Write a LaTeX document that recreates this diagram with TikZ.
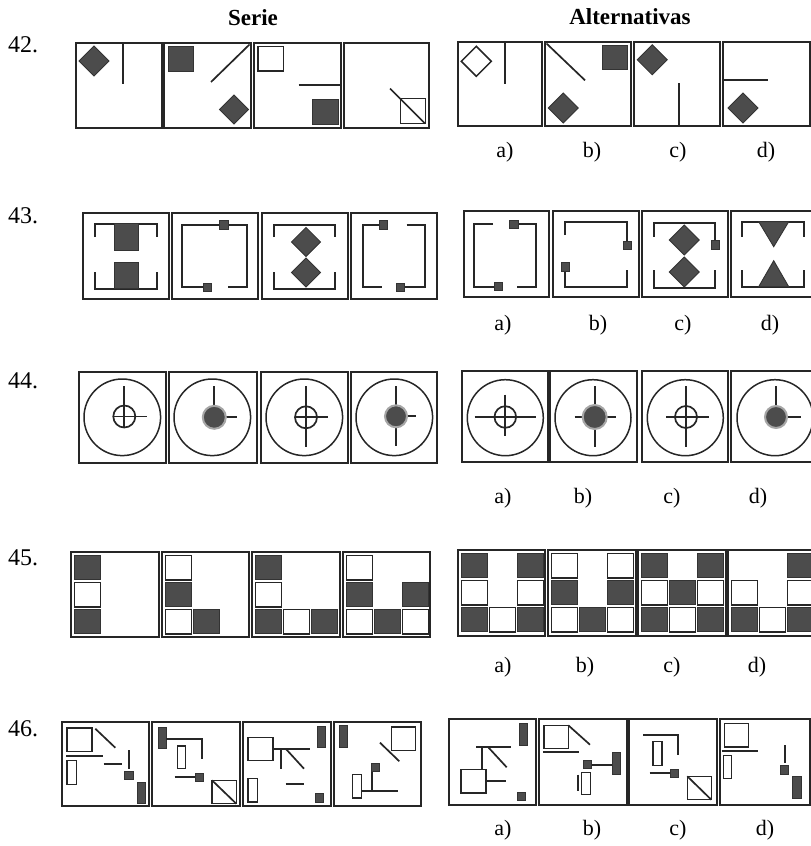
\documentclass[tikz,border=0pt]{standalone}
\usepackage{fontspec}
\setmainfont{Liberation Serif}
\definecolor{figgray}{gray}{0.3}
\definecolor{inkgray}{gray}{0.15}
\newcommand{\cellgrid}[1]{\foreach \c/\r/\t in {#1} \draw[\t] ({3.5+28*\c},{3.3+27*\r}) rectangle ++(26,24.5);}

\begin{document}
\begin{tikzpicture}[x=1pt,y=-1pt,
  panel/.style={draw=inkgray,line width=1.4pt},
  ln/.style={draw=inkgray,line width=1.7pt},
  dark/.style={fill=figgray,draw=black!80,line width=0.9pt},
  hollow/.style={draw=inkgray,line width=1.5pt,fill=white},
  disc/.style={fill=figgray,draw=black!35,line width=2pt},
  dcell/.style={fill=figgray,draw=black!80,line width=1pt},
  wcell/.style={fill=white,draw=inkgray,line width=1.5pt},
  qnum/.style={anchor=west,inner sep=0pt,font=\fontsize{24}{28}\selectfont},
  opt/.style={inner sep=0pt,font=\fontsize{22}{26}\selectfont}]
\useasboundingbox (0,0) rectangle (811,846);
\node[font=\bfseries\fontsize{23}{26}\selectfont] (serie) at (253,18) {Serie};
\node[font=\bfseries\fontsize{23}{26}\selectfont] (alternativas) at (630,17) {Alternativas};
\node[qnum] (q42) at (8,45) {42.};
\node[qnum] (q43) at (8,216) {43.};
\node[qnum] (q44) at (8,381) {44.};
\node[qnum] (q45) at (8,558) {45.};
\node[qnum] (q46) at (8,729) {46.};
\foreach \x/\l in {505/a,592/b,678/c,766/d} \node[opt] (o42\l) at (\x,152) {\l)};
\foreach \x/\l in {503/a,598/b,683/c,770/d} \node[opt] (o43\l) at (\x,325) {\l)};
\foreach \x/\l in {503/a,583/b,672/c,758/d} \node[opt] (o44\l) at (\x,498) {\l)};
\foreach \x/\l in {503/a,585/b,672/c,757/d} \node[opt] (o45\l) at (\x,667) {\l)};
\foreach \x/\l in {503/a,592/b,678/c,765/d} \node[opt] (o46\l) at (\x,830) {\l)};

% 42
\begin{scope}[shift={(76,43)}]
\draw[panel] (0,0) rectangle (86,85);
\draw[dark] (3,18) -- (18,3) -- (33,18) -- (18,33) -- cycle;
\draw[ln] (47,1) -- (47,41);
\end{scope}
\begin{scope}[shift={(164,43)}]
\draw[panel] (0,0) rectangle (87,85);
\draw[dark] (4,3) rectangle (29,28);
\draw[ln] (47,39) -- (85.5,1.5);
\draw[dark] (55.5,66.5) -- (70,52) -- (84.5,66.5) -- (70,81) -- cycle;
\end{scope}
\begin{scope}[shift={(254,43)}]
\draw[panel] (0,0) rectangle (87,85);
\draw[hollow] (4,3.5) rectangle (29.5,28);
\draw[ln] (44.5,42.3) -- (86,42.3);
\draw[dark] (58,56.5) rectangle (84,81.5);
\end{scope}
\begin{scope}[shift={(344,43)}]
\draw[panel] (0,0) rectangle (85,85);
\draw[hollow] (56.5,55.5) rectangle (81.5,80.5);
\draw[ln] (46,45.5) -- (81,80.5);
\end{scope}
\begin{scope}[shift={(458,42)}]
\draw[panel] (0,0) rectangle (84,84);
\draw[hollow] (3.3,19.3) -- (18.3,4.3) -- (33.3,19.3) -- (18.3,34.3) -- cycle;
\draw[ln] (46.7,1) -- (46.7,41.7);
\end{scope}
\begin{scope}[shift={(545,42)}]
\draw[panel] (0,0) rectangle (86,84);
\draw[ln] (1.5,1.5) -- (40,38.3);
\draw[dark] (57.7,3.3) rectangle (82.7,27.7);
\draw[dark] (3.3,66) -- (18.3,51) -- (33.3,66) -- (18.3,81) -- cycle;
\end{scope}
\begin{scope}[shift={(634,42)}]
\draw[panel] (0,0) rectangle (86,84);
\draw[dark] (3.3,17.7) -- (18.3,2.7) -- (33.3,17.7) -- (18.3,32.7) -- cycle;
\draw[ln] (44.7,41) -- (44.7,83.5);
\end{scope}
\begin{scope}[shift={(723,42)}]
\draw[panel] (0,0) rectangle (87,84);
\draw[ln] (0.7,37.7) -- (45,37.7);
\draw[dark] (5,66) -- (20,51) -- (35,66) -- (20,81) -- cycle;
\end{scope}

% 43
\begin{scope}[shift={(83,213)}]
\draw[panel] (0,0) rectangle (86,86);
\draw[ln] (12.3,24) -- (12.3,10.7) -- (74,10.7) -- (74,24);
\draw[ln] (12.3,59) -- (12.3,75.7) -- (74,75.7) -- (74,59);
\draw[dark] (31.7,10.7) rectangle (55.7,37.3);
\draw[dark] (31.7,49) rectangle (55.7,75.7);
\end{scope}
\begin{scope}[shift={(172,213)}]
\draw[panel] (0,0) rectangle (86,86);
\draw[ln] (31,74) -- (10.3,74) -- (10.3,11.7) -- (75,11.7) -- (75,74) -- (56,74);
\draw[dark] (47.7,7.7) rectangle ++(8.3,8.3);
\draw[dark] (31,70) rectangle ++(8.3,8.3);
\end{scope}
\begin{scope}[shift={(262,213)}]
\draw[panel] (0,0) rectangle (86,86);
\draw[ln] (12.3,24) -- (12.3,11.7) -- (73,11.7) -- (73,24);
\draw[ln] (12.3,59) -- (12.3,75.7) -- (73,75.7) -- (73,59);
\draw[dark] (29.5,29) -- (44,14.5) -- (58.5,29) -- (44,43.5) -- cycle;
\draw[dark] (29.5,59.5) -- (44,45) -- (58.5,59.5) -- (44,74) -- cycle;
\end{scope}
\begin{scope}[shift={(351,213)}]
\draw[panel] (0,0) rectangle (86,86);
\draw[ln] (28,11.7) -- (11.7,11.7) -- (11.7,74) -- (30.7,74);
\draw[ln] (55.7,11.7) -- (74,11.7) -- (74,74) -- (53.3,74);
\draw[dark] (28,7.7) rectangle ++(8.3,8.3);
\draw[dark] (45.3,70) rectangle ++(8.3,8.3);
\end{scope}
\begin{scope}[shift={(464,211)}]
\draw[panel] (0,0) rectangle (85,86);
\draw[ln] (29,13.3) -- (10,13.3) -- (10,75.7) -- (30,75.7);
\draw[ln] (54,13.3) -- (72.3,13.3) -- (72.3,75.7) -- (53.3,75.7);
\draw[dark] (45.7,9) rectangle ++(8.3,8.3);
\draw[dark] (30,71.5) rectangle ++(8.3,8.3);
\end{scope}
\begin{scope}[shift={(553,211)}]
\draw[panel] (0,0) rectangle (86,86);
\draw[ln] (12.3,24) -- (12.3,10.7) -- (74,10.7) -- (74,30);
\draw[ln] (12.3,60) -- (12.3,75.7) -- (74,75.7) -- (74,59);
\draw[dark] (8.2,51.7) rectangle ++(8.3,8.3);
\draw[dark] (70,30) rectangle ++(8.3,8.3);
\end{scope}
\begin{scope}[shift={(642,211)}]
\draw[panel] (0,0) rectangle (86,86);
\draw[ln] (11.7,25.7) -- (11.7,12.3) -- (72.7,12.3) -- (72.7,29.7);
\draw[ln] (11.7,59) -- (11.7,77.3) -- (72.7,77.3) -- (72.7,59);
\draw[dark] (69,29.7) rectangle ++(8.3,8.3);
\draw[dark] (27.3,29) -- (42.3,14) -- (57.3,29) -- (42.3,44) -- cycle;
\draw[dark] (27.3,61) -- (42.3,46) -- (57.3,61) -- (42.3,76) -- cycle;
\end{scope}
\begin{scope}[shift={(731,211)}]
\draw[panel] (0,0) rectangle (86,86);
\draw[ln] (11,25.7) -- (11,10.7) -- (72.7,10.7) -- (72.7,25.7);
\draw[ln] (11,59) -- (11,75.7) -- (72.7,75.7) -- (72.7,59);
\draw[dark] (27.7,10.7) -- (57.7,10.7) -- (42.7,35.7) -- cycle;
\draw[dark] (27.7,75.7) -- (57.7,75.7) -- (42.7,49.7) -- cycle;
\end{scope}

% 44
\begin{scope}[shift={(79,372)}]
\draw[panel] (0,0) rectangle (87,91);
\draw[ln,line width=1.5pt] (43.3,45.3) circle (38.3);
\draw[ln] (45.3,44.5) circle (11);
\draw[ln] (45.3,14.3) -- (45.3,55.5);
\draw[ln] (34.3,44.5) -- (67.7,44.5);
\end{scope}
\begin{scope}[shift={(169,372)}]
\draw[panel] (0,0) rectangle (88,91);
\draw[ln,line width=1.5pt] (43.3,45.3) circle (38.3);
\draw[ln] (45.3,14.3) -- (45.3,34);
\draw[ln] (56.8,45.3) -- (68.3,45.3);
\draw[disc] (45.3,45.3) circle (11.5);
\end{scope}
\begin{scope}[shift={(261,372)}]
\draw[panel] (0,0) rectangle (87,91);
\draw[ln,line width=1.5pt] (43.3,45.3) circle (38.3);
\draw[ln] (45,45.3) circle (11);
\draw[ln] (45,14.3) -- (45,75.3);
\draw[ln] (34,45.3) -- (67.3,45.3);
\end{scope}
\begin{scope}[shift={(351,372)}]
\draw[panel] (0,0) rectangle (86,91);
\draw[ln,line width=1.5pt] (43.3,45.3) circle (38.3);
\draw[ln] (45,14.3) -- (45,74.3);
\draw[ln] (45,44.3) -- (65,44.3);
\draw[disc] (45,44.3) circle (11);
\end{scope}
\begin{scope}[shift={(462,371)}]
\draw[panel] (0,0) rectangle (86,91);
\draw[ln,line width=1.5pt] (43.3,46.7) circle (38);
\draw[ln] (43.3,46) circle (10.8);
\draw[ln] (43.3,23.7) -- (43.3,65);
\draw[ln] (12.7,46) -- (74.3,46);
\end{scope}
\begin{scope}[shift={(550,371)}]
\draw[panel] (0,0) rectangle (87,91);
\draw[ln,line width=1.5pt] (43,46.7) circle (38);
\draw[ln] (44.7,15) -- (44.7,76);
\draw[ln] (24.7,46) -- (66.3,46);
\draw[disc] (44.7,46) circle (12);
\end{scope}
\begin{scope}[shift={(642,371)}]
\draw[panel] (0,0) rectangle (86,91);
\draw[ln,line width=1.5pt] (43.3,46.7) circle (38);
\draw[ln] (44,46) circle (11);
\draw[ln] (44,15) -- (44,76);
\draw[ln] (24,46) -- (66.7,46);
\end{scope}
\begin{scope}[shift={(731,371)}]
\draw[panel] (0,0) rectangle (86,91);
\draw[ln,line width=1.5pt] (44,46.7) circle (38);
\draw[ln] (45,15) -- (45,40);
\draw[ln] (45,46) -- (70,46);
\draw[disc] (45,46) circle (11);
\end{scope}

% 45
\begin{scope}[shift={(71,552)}]
\draw[panel] (0,0) rectangle (88,85);
\cellgrid{0/0/dcell,0/1/wcell,0/2/dcell}
\end{scope}
\begin{scope}[shift={(162,552)}]
\draw[panel] (0,0) rectangle (87,85);
\cellgrid{0/0/wcell,0/1/dcell,0/2/wcell,1/2/dcell}
\end{scope}
\begin{scope}[shift={(252,552)}]
\draw[panel] (0,0) rectangle (88,85);
\cellgrid{0/0/dcell,0/1/wcell,0/2/dcell,1/2/wcell,2/2/dcell}
\end{scope}
\begin{scope}[shift={(343,552)}]
\draw[panel] (0,0) rectangle (87,85);
\cellgrid{0/0/wcell,0/1/dcell,0/2/wcell,1/2/dcell,2/2/wcell,2/1/dcell}
\end{scope}
\begin{scope}[shift={(458,550)}]
\draw[panel] (0,0) rectangle (87,86);
\cellgrid{0/0/dcell,0/1/wcell,0/2/dcell,2/0/dcell,2/1/wcell,2/2/dcell,1/2/wcell}
\end{scope}
\begin{scope}[shift={(548,550)}]
\draw[panel] (0,0) rectangle (88,86);
\cellgrid{0/0/wcell,0/1/dcell,0/2/wcell,2/0/wcell,2/1/dcell,2/2/wcell,1/2/dcell}
\end{scope}
\begin{scope}[shift={(638,550)}]
\draw[panel] (0,0) rectangle (88,86);
\cellgrid{0/0/dcell,0/1/wcell,0/2/dcell,1/1/dcell,1/2/wcell,2/0/dcell,2/1/wcell,2/2/dcell}
\end{scope}
\begin{scope}[shift={(728,550)}]
\draw[panel] (0,0) rectangle (88,86);
\cellgrid{0/1/wcell,0/2/dcell,1/2/wcell,2/0/dcell,2/1/wcell,2/2/dcell}
\end{scope}

% 46
\begin{scope}[shift={(62,722)}]
\draw[panel] (0,0) rectangle (87,84);
\draw[hollow] (5,6) rectangle (30,29.3);
\draw[ln] (33.3,6.7) -- (53.3,25.7);
\draw[ln] (4.3,34) -- (41,34);
\draw[hollow] (5,38.3) rectangle (14.3,62.3);
\draw[ln] (41.7,41.7) -- (60,41.7);
\draw[ln] (66.7,28.3) -- (66.7,46.7);
\draw[dark] (62.3,49) rectangle (71,57.3);
\draw[dark] (75.7,60.7) rectangle (83.3,81.7);
\end{scope}
\begin{scope}[shift={(152,722)}]
\draw[panel] (0,0) rectangle (88,84);
\draw[dark] (6.3,5.7) rectangle (14.3,26);
\draw[ln] (14.3,16.7) -- (50,16.7) -- (50,36.7);
\draw[hollow] (25.3,24) rectangle (33.7,46.7);
\draw[ln] (22.7,55) -- (44,55);
\draw[dark] (43.7,51) rectangle (51.7,59);
\draw[hollow] (60,58.3) rectangle (84.3,81.7);
\draw[ln] (60,58.3) -- (84.3,81.7);
\end{scope}
\begin{scope}[shift={(243,722)}]
\draw[panel] (0,0) rectangle (88,84);
\draw[dark] (74.3,4.3) rectangle (82.7,25.7);
\draw[hollow] (5,15.7) rectangle (30,38.3);
\draw[ln] (30,26.7) -- (66.7,26.7);
\draw[ln] (38.3,26.7) -- (38.3,46.7);
\draw[ln] (42.7,26.7) -- (61,46.7);
\draw[hollow] (5,56.7) rectangle (14.3,80);
\draw[ln] (42.7,61.7) -- (61,61.7);
\draw[dark] (72.7,71.7) rectangle (80.7,80);
\end{scope}
\begin{scope}[shift={(334,722)}]
\draw[panel] (0,0) rectangle (87,84);
\draw[dark] (5,3.3) rectangle (13.3,25);
\draw[hollow] (57.7,5) rectangle (81.7,28.3);
\draw[ln] (46,20.7) -- (65.3,39.3);
\draw[ln] (38,49) -- (38,69.3);
\draw[dark] (37,41.7) rectangle (45,49);
\draw[ln] (27.7,69.3) -- (64.3,69.3);
\draw[hollow] (18.7,52.7) rectangle (27.7,76);
\end{scope}
\begin{scope}[shift={(449,719)}]
\draw[panel] (0,0) rectangle (87,86);
\draw[dark] (70,4.7) rectangle (78,26.3);
\draw[ln] (27,28.3) -- (62,28.3);
\draw[ln] (32.7,28.3) -- (32.7,50.7);
\draw[ln] (39.3,28.3) -- (57.7,48.3);
\draw[hollow] (12,50.7) rectangle (37,74);
\draw[ln] (37,62.3) -- (56.7,62.3);
\draw[dark] (68.3,73) rectangle (76.7,81.7);
\end{scope}
\begin{scope}[shift={(539,719)}]
\draw[panel] (0,0) rectangle (88,86);
\draw[hollow] (5,6.3) rectangle (29.3,29.7);
\draw[ln] (29.3,6.3) -- (51,25.7);
\draw[ln] (4.3,33.3) -- (40.3,33.3);
\draw[ln] (52.7,45.7) -- (73.3,45.7);
\draw[dark] (44.3,41.7) rectangle (52.7,49.7);
\draw[dark] (73.3,33.3) rectangle (81.7,55);
\draw[hollow] (42.7,53.3) rectangle (51.7,75.7);
\draw[ln] (38.7,55.7) -- (38.7,71.7);
\end{scope}
\begin{scope}[shift={(629,719)}]
\draw[panel] (0,0) rectangle (88,86);
\draw[ln] (14,16.3) -- (49,16.3) -- (49,35.7);
\draw[hollow] (24,22.3) rectangle (33,46.3);
\draw[ln] (20.7,54) -- (41.3,54);
\draw[dark] (41.3,50) rectangle (49,58);
\draw[hollow] (58.3,57.3) rectangle (82.3,80.7);
\draw[ln] (58.3,57.3) -- (82.3,80.7);
\end{scope}
\begin{scope}[shift={(720,719)}]
\draw[panel] (0,0) rectangle (90,86);
\draw[hollow] (4.3,4.7) rectangle (28.3,28);
\draw[ln] (1.7,31.7) -- (38.3,31.7);
\draw[hollow] (3.3,36.3) rectangle (11.7,59.7);
\draw[ln] (65,26.3) -- (65,44);
\draw[dark] (60,46.7) rectangle (68.3,55);
\draw[dark] (72.7,57.3) rectangle (81,79.7);
\end{scope}
\end{tikzpicture}
\end{document}
